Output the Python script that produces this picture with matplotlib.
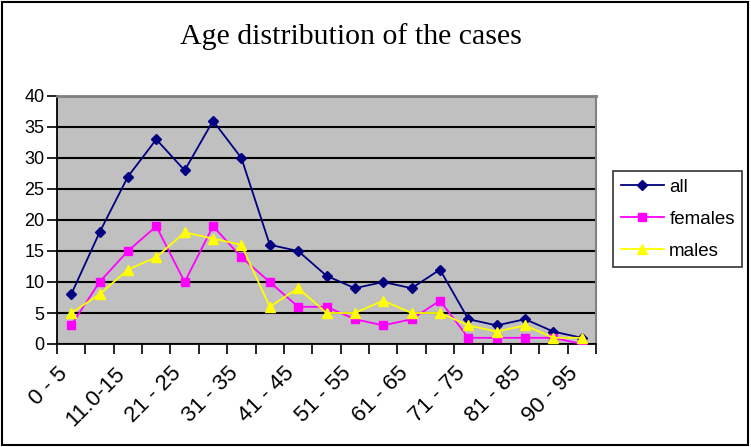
import matplotlib.pyplot as plt
import matplotlib.transforms as mtransforms
from matplotlib.patches import Rectangle

plt.rcParams["font.family"] = "Liberation Sans"

# datos
grupos = ["0 - 5", "6 - 10", "11.0-15", "16 - 20", "21 - 25", "26 - 30",
          "31 - 35", "36 - 40", "41 - 45", "46 - 50", "51 - 55", "56 - 60",
          "61 - 65", "66 - 70", "71 - 75", "76 - 80", "81 - 85", "86 - 89",
          "90 - 95"]
todos = [8, 18, 27, 33, 28, 36, 30, 16, 15, 11, 9, 10, 9, 12, 4, 3, 4, 2, 1]
mujeres = [3, 10, 15, 19, 10, 19, 14, 10, 6, 6, 4, 3, 4, 7, 1, 1, 1, 1, 0]
hombres = [5, 8, 12, 14, 18, 17, 16, 6, 9, 5, 5, 7, 5, 5, 3, 2, 3, 1, 1]

W, H = 751, 447
fig = plt.figure(figsize=(W / 100, H / 100), dpi=100)
fig.patch.set_facecolor("white")

# marco exterior
fig.patches.append(Rectangle((2 / W, 2 / H), 746 / W, 443 / H, transform=fig.transFigure,
                             fill=False, edgecolor="black", linewidth=1.5))

ax = fig.add_axes([57 / W, 1 - 344 / H, (596 - 57) / W, (344 - 96) / H])
ax.set_facecolor("#C0C0C0")

x = list(range(len(grupos)))
ax.plot(x, todos, color="#000080", marker="D", markersize=5, linewidth=1.3, label="all", zorder=3)
ax.plot(x, mujeres, color="#FF00FF", marker="s", markersize=6, linewidth=1.3, label="females", zorder=4)
ax.plot(x, hombres, color="#FFFF00", marker="^", markersize=7.5, linewidth=1.3, label="males", zorder=5)

ax.set_xlim(-0.5, len(grupos) - 0.5)
ax.set_ylim(0, 40)
ax.set_yticks(range(0, 41, 5))
ax.yaxis.grid(True, color="black", linewidth=1.5)
ax.set_axisbelow(True)

# etiquetas cada dos grupos, marcas entre categorias
ax.set_xticks(x[::2])
ax.set_xticklabels(grupos[::2], rotation=45, ha="right", va="top", rotation_mode="anchor")
ax.set_xticks([i - 0.5 for i in range(len(grupos) + 1)], minor=True)
ax.tick_params(axis="x", which="major", length=0, pad=0, labelsize=16)
ax.tick_params(axis="x", which="minor", length=7, width=1.2, direction="out")
ax.tick_params(axis="y", length=7, width=1.2, direction="out", labelsize=13, pad=2)

desplaza = mtransforms.ScaledTranslation(-14 / 100, -19 / 100, fig.dpi_scale_trans)
for lab in ax.get_xticklabels():
    lab.set_transform(lab.get_transform() + desplaza)

ax.spines["left"].set_linewidth(1.3)
ax.spines["bottom"].set_linewidth(1.3)
ax.spines["top"].set_color("#808080")
ax.spines["right"].set_color("#808080")
ax.spines["top"].set_linewidth(2)
ax.spines["right"].set_linewidth(1.5)

fig.text(351 / W, 1 - 44 / H, "Age distribution of the cases", ha="center", va="baseline",
         fontsize=21.5, family="Liberation Serif")

leg = fig.legend(loc="upper left", bbox_to_anchor=(613 / W, 1 - 171 / H), fontsize=13.5,
                 frameon=True, fancybox=False, edgecolor="black", handlelength=2.3,
                 handletextpad=0.3, labelspacing=0.8, borderpad=0.4, borderaxespad=0)
leg.get_frame().set_linewidth(1.2)

fig.savefig("out.png", dpi=100)
